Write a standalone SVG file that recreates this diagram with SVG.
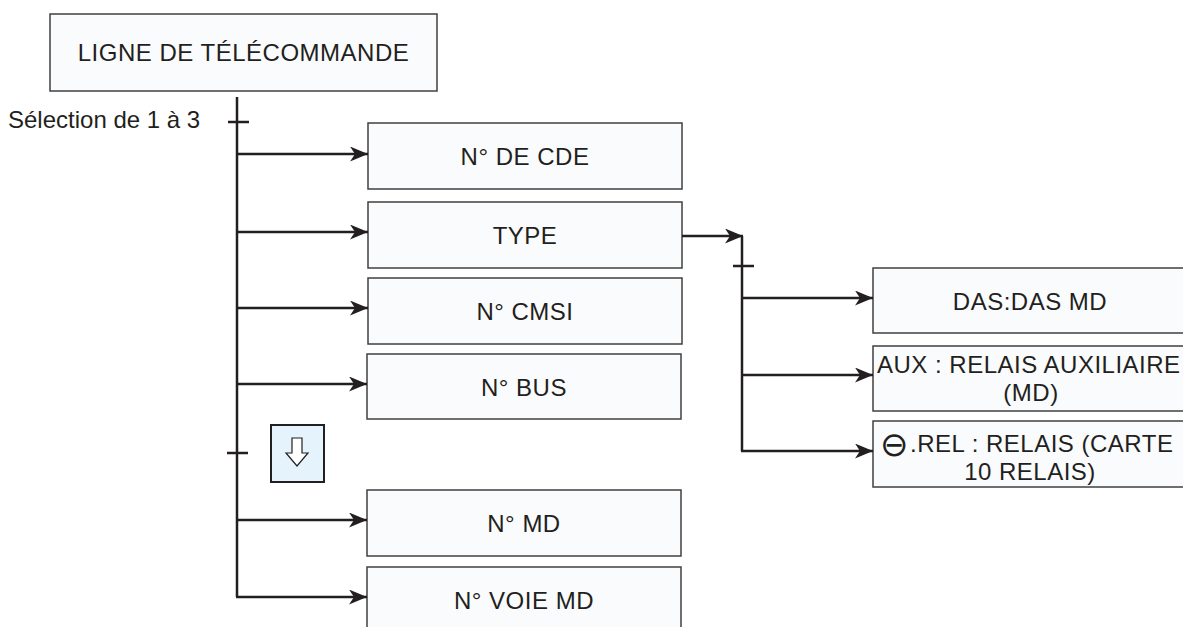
<svg xmlns="http://www.w3.org/2000/svg" width="1183" height="627" viewBox="0 0 1183 627">
<defs>
<marker id="ah" markerUnits="userSpaceOnUse" markerWidth="20" markerHeight="16" refX="18" refY="7.5" orient="auto" viewBox="0 0 20 16">
<path d="M0,0 L18,7.5 L0,15 L5,7.5 z" fill="#231f20"/>
</marker>
<style>
.box{fill:#fafbfd;stroke:#404040;stroke-width:1.5}
.t{font-family:"Liberation Sans",Arial,sans-serif;font-size:24px;fill:#231f20;letter-spacing:0.5px}
.c{text-anchor:middle}
.ln{fill:none;stroke:#231f20;stroke-width:2.5}
.arr{fill:none;stroke:#231f20;stroke-width:2.5;marker-end:url(#ah)}
</style>
</defs>
<rect width="1183" height="627" fill="#ffffff"/>
<g id="title">
<rect class="box" x="50" y="14" width="387" height="77"/>
<text class="t c" x="243.5" y="61">LIGNE DE TÉLÉCOMMANDE</text>
</g>
<g id="selection-label">
<text class="t" x="8" y="128" style="letter-spacing:0">Sélection de 1 à 3</text>
</g>
<g id="n-cde"><rect class="box" x="368" y="123" width="314" height="66"/><text class="t c" x="525" y="165">N° DE CDE</text></g>
<g id="type"><rect class="box" x="368" y="202" width="314" height="66"/><text class="t c" x="525" y="244">TYPE</text></g>
<g id="n-cmsi"><rect class="box" x="368" y="278" width="314" height="66"/><text class="t c" x="525" y="320">N° CMSI</text></g>
<g id="n-bus"><rect class="box" x="367" y="354" width="314" height="65"/><text class="t c" x="524" y="396">N° BUS</text></g>
<g id="scroll-icon">
<rect x="271" y="425" width="53" height="57" fill="#e5f4fc" stroke="#231f20" stroke-width="2"/>
<polygon points="292,438 302,438 302,453 308,453 297,466 286,453 292,453" fill="#ffffff" stroke="#231f20" stroke-width="1.2"/>
</g>
<g id="n-md"><rect class="box" x="367" y="490" width="314" height="66"/><text class="t c" x="524" y="532">N° MD</text></g>
<g id="n-voie-md"><rect class="box" x="367" y="567" width="314" height="80"/><text class="t c" x="524" y="609">N° VOIE MD</text></g>
<g id="das"><rect class="box" x="873" y="268" width="320" height="65"/><text class="t c" x="1030" y="310">DAS:DAS MD</text></g>
<g id="aux"><rect class="box" x="873" y="346" width="320" height="65"/>
<text class="t" x="877" y="373">AUX : RELAIS AUXILIAIRE</text>
<text class="t c" x="1031" y="401">(MD)</text></g>
<g id="rel"><rect class="box" x="873" y="421" width="320" height="66"/>
<text class="t" x="880" y="456" style="font-family:'DejaVu Sans','Liberation Sans',sans-serif;font-size:34px;letter-spacing:0">⊖</text>
<text class="t" x="910" y="452">.REL : RELAIS (CARTE</text>
<text class="t c" x="1030" y="480">10 RELAIS)</text></g>
<g id="connectors">
<path class="ln" d="M237,97 V597"/>
<path class="ln" d="M228,122 H249"/>
<path class="ln" d="M227,453 H248"/>
<path class="arr" d="M237,154 H368"/>
<path class="arr" d="M237,232 H368"/>
<path class="arr" d="M237,308 H368"/>
<path class="arr" d="M237,384 H367"/>
<path class="arr" d="M237,520 H367"/>
<path class="arr" d="M236,597 H367"/>
<path class="arr" d="M682,236 H743"/>
<path class="ln" d="M742,236 V451"/>
<path class="ln" d="M733,266 H754"/>
<path class="arr" d="M742,298 H873"/>
<path class="arr" d="M742,375 H873"/>
<path class="arr" d="M741,451 H873"/>
</g>
</svg>
